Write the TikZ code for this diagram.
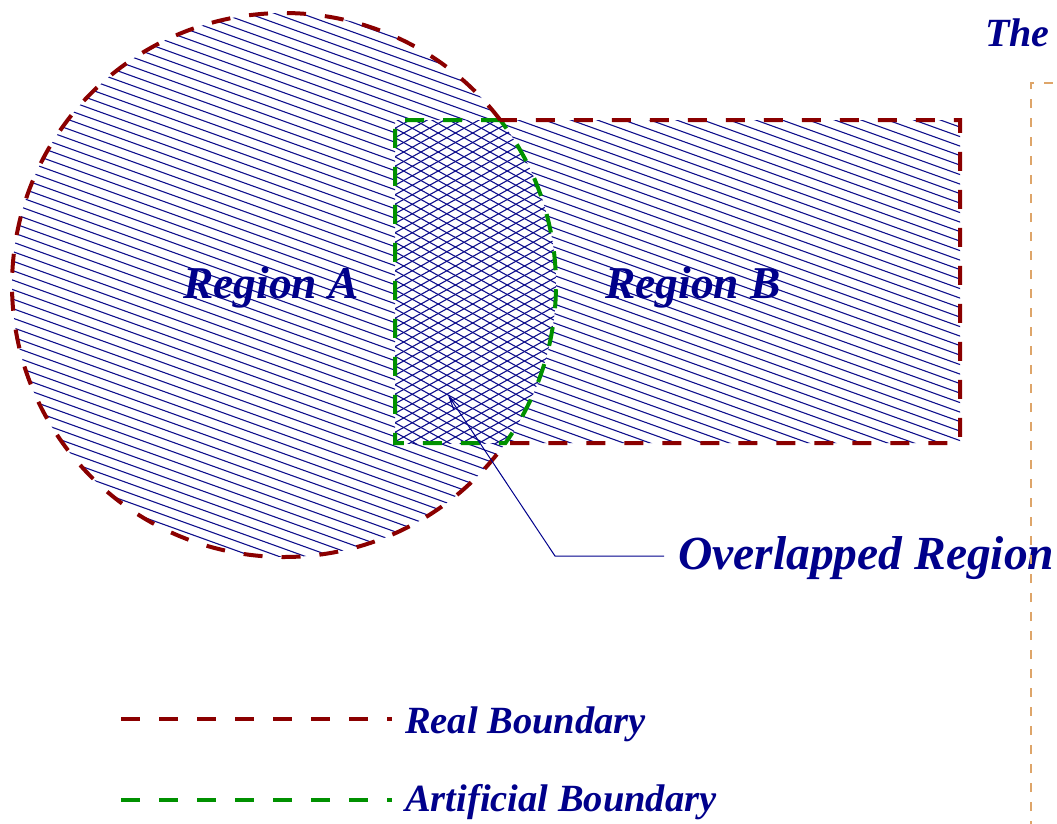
\documentclass[tikz,border=0pt]{standalone}
\usepackage{fontspec}
\setmainfont{Liberation Serif}
\usetikzlibrary{arrows.meta}

\definecolor{navytext}{RGB}{0,0,139}
\definecolor{hatchblue}{RGB}{15,15,140}
\definecolor{realred}{RGB}{139,0,0}
\definecolor{artgreen}{RGB}{0,145,0}
\definecolor{frameorange}{RGB}{222,165,105}

\tikzset{
  lbl/.style={inner sep=0pt, text=navytext, font=\fontsize{45.5}{45.5}\selectfont\bfseries\itshape},
  legendlbl/.style={inner sep=0pt, text=navytext, font=\fontsize{38.5}{38.5}\selectfont\bfseries\itshape},
  hatchline/.style={draw=hatchblue, line width=1.1pt},
  realbd/.style={draw=realred, line width=4pt, dash pattern=on 19pt off 19pt},
  artbd/.style={draw=artgreen, line width=4pt, dash pattern=on 19pt off 19pt},
  framebd/.style={draw=frameorange, line width=2.4pt, dash pattern=on 9pt off 10pt},
  leader/.style={draw=navytext, line width=1pt}
}

\begin{document}
\begin{tikzpicture}[x=1pt, y=-1pt]
  \useasboundingbox (0,0) rectangle (1057,823);

  % single hatching over circle and rectangle, outside their common part
  \begin{scope}[even odd rule]
    \clip (284,285) circle[radius=272] (395,120) rectangle (960,443);
    \foreach \k in {-40,...,62}
      \draw[hatchline] (0,\k*9.5) -- ++(1057,380.5);
  \end{scope}

  % cross hatching over the common part
  \begin{scope}
    \clip (284,285) circle[radius=272];
    \clip (395,120) rectangle (960,443);
    \foreach \k in {-10,...,70}
      \draw[hatchline] (300,\k*9.5) -- ++(300,165);
    \foreach \k in {-10,...,70}
      \draw[hatchline] (300,\k*9.5) -- ++(300,-165);
  \end{scope}

  % artificial boundary of the common part
  \draw[artbd] (500.24,120) -- (395,120) -- (395,443) -- (505.4,443)
    arc[start angle=35.51, end angle=-37.35, radius=272];

  % real boundary of the union
  \draw[realbd] (500.24,120)
    arc[start angle=-37.35, end angle=-324.49, radius=272]
    -- (960,443) -- (960,120) -- cycle;

  % labels
  \node[lbl, anchor=base west] (ra) at (183,298) {Region A};
  \node[lbl, anchor=base west] (rb) at (605,298) {Region B};
  \node[lbl, anchor=base west, font=\fontsize{47.5}{47.5}\selectfont\bfseries\itshape] (ovl) at (678,569) {Overlapped Region};
  \node[lbl, anchor=base west, font=\fontsize{40}{40}\selectfont\bfseries\itshape] (the) at (985,46) {The};

  % leader from the label into the common part
  \coordinate (lead) at (664,556);
  \coordinate (bend) at (555,556);
  \coordinate (tip) at (448,395);
  \draw[leader, -{Straight Barb[length=14pt,width=7pt]}] (lead) -- (bend) -- (tip);

  % dashed frame on the right, drawn over the text
  \coordinate (fc) at (1031,83);
  \coordinate (fb) at (1031,830);
  \coordinate (fr) at (1060,83);
  \draw[framebd] (fb) -- (fc) -- (fr);

  % legend
  \coordinate (l1a) at (121,719);
  \coordinate (l1b) at (392,719);
  \coordinate (l2a) at (121,800);
  \coordinate (l2b) at (392,800);
  \draw[realbd] (l1a) -- (l1b);
  \draw[artbd] (l2a) -- (l2b);
  \node[legendlbl, anchor=base west] (lreal) at (405,733) {Real Boundary};
  \node[legendlbl, anchor=base west] (lart) at (405,811) {Artificial Boundary};
\end{tikzpicture}
\end{document}
